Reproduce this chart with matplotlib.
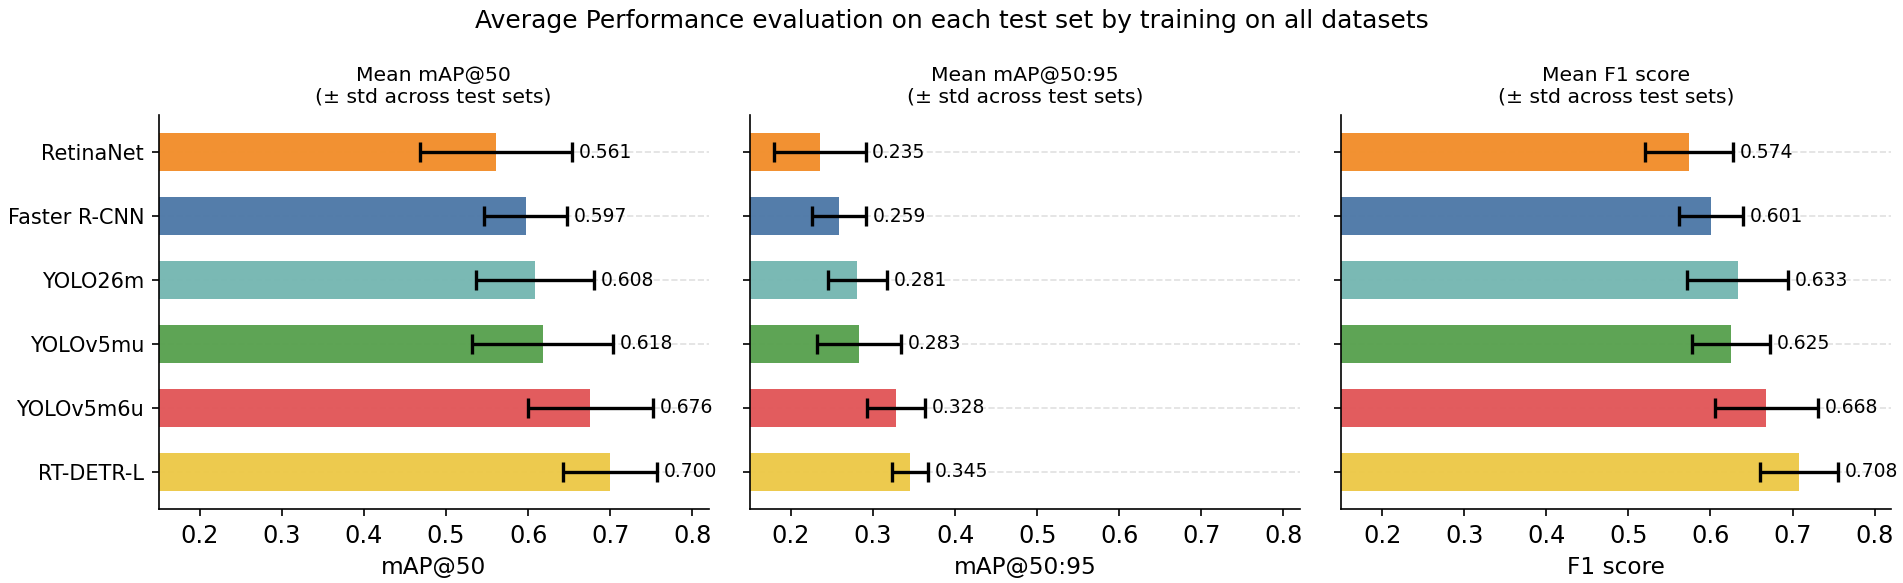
import numpy as np
import matplotlib
matplotlib.use("Agg")
import matplotlib.pyplot as plt

models = ["RetinaNet", "Faster R-CNN", "YOLO26m", "YOLOv5mu", "YOLOv5m6u", "RT-DETR-L"]
colors = ["#F28E2B", "#4E79A7", "#76B7B2", "#59A14F", "#E15759", "#EDC948"]

map50_mean = [0.561, 0.597, 0.608, 0.618, 0.676, 0.700]
map50_std = [0.093, 0.051, 0.072, 0.086, 0.076, 0.057]

map5095_mean = [0.235, 0.259, 0.281, 0.283, 0.328, 0.345]
map5095_std = [0.056, 0.033, 0.036, 0.051, 0.035, 0.022]

f1_mean = [0.574, 0.601, 0.633, 0.625, 0.668, 0.708]
f1_std = [0.054, 0.039, 0.062, 0.048, 0.063, 0.048]

panels = [
    ("Mean mAP@50\n(± std across test sets)", "mAP@50", map50_mean, map50_std),
    ("Mean mAP@50:95\n(± std across test sets)", "mAP@50:95", map5095_mean, map5095_std),
    ("Mean F1 score\n(± std across test sets)", "F1 score", f1_mean, f1_std),
]

fig, axes = plt.subplots(1, 3, figsize=(1903 / 150, 583 / 150), dpi=150, sharey=True)
fig.subplots_adjust(left=0.0834, right=0.9937, top=0.8027, bottom=0.127, wspace=0.075)

y = np.arange(len(models))
for ax, (title, xlabel, mean, std) in zip(axes, panels):
    ax.barh(y, mean, height=0.6, color=colors, alpha=0.97, zorder=2)
    ax.errorbar(mean, y, xerr=std, fmt="none", ecolor="black", elinewidth=1.6,
                capsize=5, capthick=1.6, zorder=3)
    for yi, m, s in zip(y, mean, std):
        ax.text(m + s + 0.008, yi, f"{m:.3f}", va="center", ha="left", fontsize=9, zorder=4)
    ax.set_xlim(0.15, 0.82)
    ax.set_title(title, fontsize=9.8)
    ax.set_xlabel(xlabel, fontsize=11.2)
    ax.tick_params(axis="x", labelsize=11.5)
    ax.tick_params(axis="y", labelsize=10)
    ax.grid(axis="y", linestyle="--", color="#d8d8d8", alpha=0.8, zorder=0)
    ax.set_axisbelow(True)
    ax.spines["top"].set_visible(False)
    ax.spines["right"].set_visible(False)

axes[0].set_yticks(y)
axes[0].set_yticklabels(models)
axes[0].invert_yaxis()

fig.suptitle("Average Performance evaluation on each test set by training on all datasets",
             fontsize=12, y=0.985)

fig.savefig("out.png", dpi=150)
